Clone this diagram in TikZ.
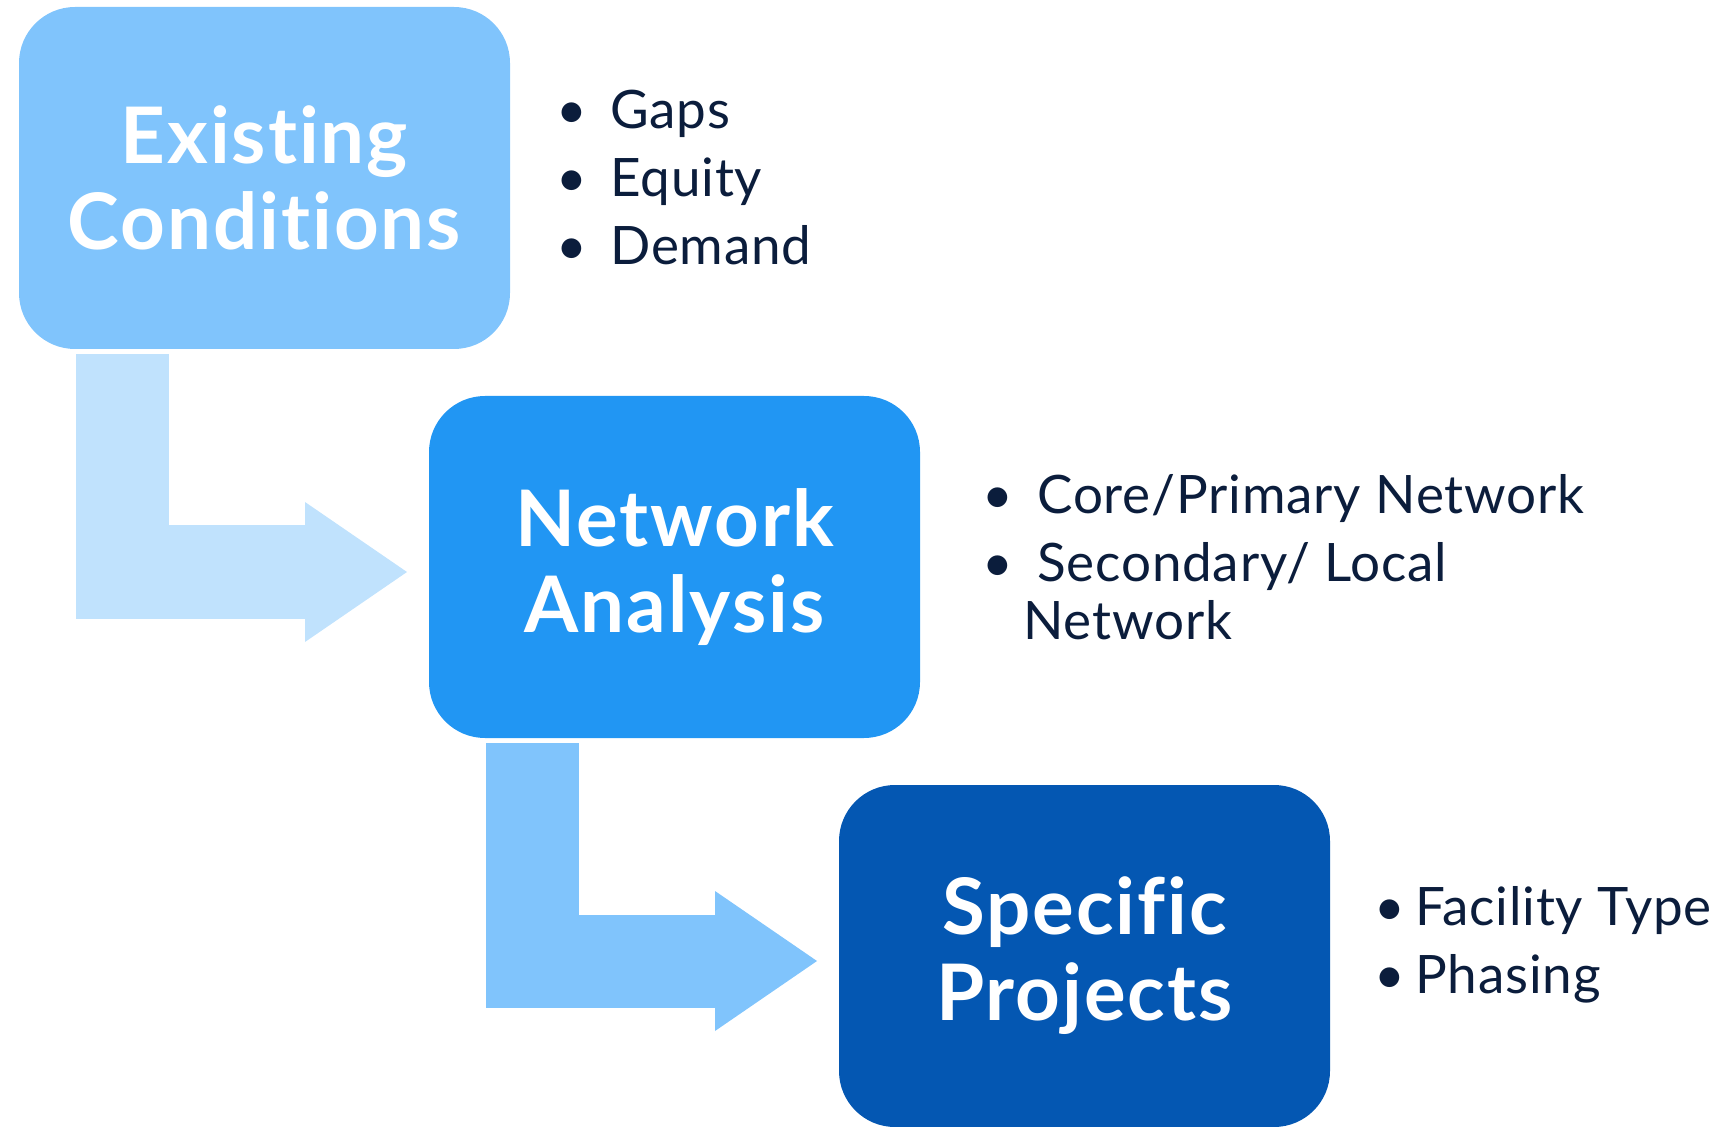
\documentclass[tikz,border=0pt]{standalone}
\usepackage{fontspec}
\setmainfont{Lato}[Ligatures=NoCommon, LetterSpace=1.5, BoldFeatures={LetterSpace=2.5}]
\usetikzlibrary{arrows.meta,positioning}
\definecolor{paleblue}{RGB}{192,226,253}
\definecolor{lightblue}{RGB}{128,196,252}
\definecolor{midblue}{RGB}{33,150,243}
\definecolor{darkblue}{RGB}{4,87,178}
\definecolor{navy}{RGB}{11,29,60}
\newcommand{\bitem}[2][27pt]{\makebox[#1][l]{\textbullet}#2}

\begin{document}
\begin{tikzpicture}[x=1pt, y=1pt, stage/.style={rectangle, rounded corners=28pt, minimum width=245.5pt, minimum height=171pt, inner sep=0pt, outer sep=0pt, align=center, text=white, font=\bfseries\fontsize{39}{43}\selectfont}, points/.style={inner sep=0pt, align=left, text=navy, font=\fontsize{26.5}{34}\selectfont}, flow/.style={line width=46.5pt, -{Triangle[width=70pt, length=51pt, line width=0pt]}}, node distance=23.5pt and 24pt]
        \useasboundingbox (0,0) rectangle (867,563);
        \node[stage, fill=lightblue] (existing) at (132.25,474) {Existing\\Conditions};
        \node[stage, fill=midblue, below=of existing, xshift=205pt] (network) {Network\\Analysis};
        \node[stage, fill=darkblue, below=of network, xshift=205pt] (projects) {Specific\\Projects};
        \node[points, right=of existing, xshift=-1pt] (existing_pts) {\bitem{Gaps}\\\bitem{Equity}\\\bitem{Demand}};
        \node[points, right=31pt of network, yshift=5pt] (network_pts) {\bitem[27.5pt]{Core/Primary Network}\\\bitem[27.5pt]{Secondary/ Local}\\[-5pt]\hspace*{20.5pt}Network};
        \node[points, right=of projects, xshift=-2pt, yshift=5.5pt] (projects_pts) {\bitem[20.5pt]{Facility Type}\\\bitem[20.5pt]{Phasing}};
        \draw[flow, paleblue] ([xshift=-71pt, yshift=-2.5pt]existing.south) |- ([xshift=-11pt, yshift=-2.5pt]network.west);
        \draw[flow, lightblue] ([xshift=-71pt, yshift=-2.5pt]network.south) |- ([xshift=-11pt, yshift=-2.5pt]projects.west);
      \end{tikzpicture}
\end{document}
